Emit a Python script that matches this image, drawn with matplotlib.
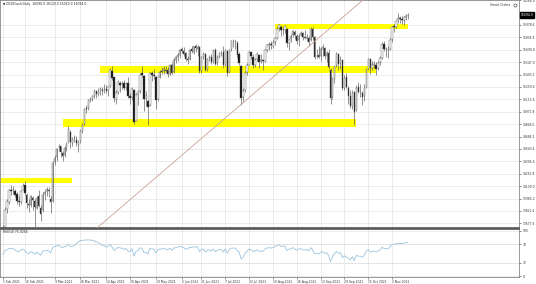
import numpy as np
import pandas as pd
import matplotlib
matplotlib.use('Agg')
import matplotlib.pyplot as plt

# DE30Cash daily bars, 1 Feb 2021 .. 12 Nov 2021
dates = pd.bdate_range('2021-02-01', '2021-11-12')

opens = [13450, 13640, 13840, 13930, 14070, 14070, 14050, 14020, 13940, 13930, 14070, 14120, 14010, 13900, 13890, 13970, 13940, 13860, 13990, 13860,
         13830, 14020, 14050, 14070, 13960, 13940, 14390, 14450, 14560, 14570, 14490, 14470, 14560, 14620, 14740, 14610, 14670, 14650, 14590, 14630, 14750, 14830, 15010,
         15020, 15110, 15120, 15160, 15210, 15180, 15210, 15230, 15220, 15240, 15220, 15270, 15450, 15370, 15120, 15200, 15310, 15290, 15300, 15260, 15300, 15150,
         15140, 15230, 14870, 15180, 15210, 15420, 15390, 15130, 15100, 15050, 15420, 15400, 15380, 15120, 15380, 15440, 15440, 15460, 15460, 15410, 15520,
         15430, 15570, 15610, 15630, 15700, 15680, 15650, 15580, 15580, 15700, 15670, 15730, 15700, 15720, 15440, 15610, 15640, 15470, 15590, 15610, 15560, 15690,
         15540, 15610, 15660, 15670, 15520, 15680, 15430, 15700, 15790, 15780, 15770, 15640, 15500, 15140, 15220, 15430, 15520, 15660, 15610, 15520, 15580, 15630,
         15560, 15570, 15560, 15690, 15750, 15760, 15740, 15780, 15830, 15940, 15960, 15920, 15920, 15930, 15770, 15810, 15860, 15900, 15850, 15800, 15860, 15890,
         15840, 15830, 15830, 15800, 15930, 15840, 15620, 15630, 15620, 15700, 15710, 15620, 15650, 15460, 15140, 15350, 15510, 15640, 15540, 15570, 15250, 15370,
         15250, 15160, 15040, 15200, 14990, 15260, 15200, 15190, 15150, 15260, 15470, 15580, 15480, 15510, 15520, 15480, 15550, 15600, 15760, 15700, 15690,
         15700, 15810, 15960, 15960, 16040, 16060, 16050, 16040, 16070, 16090]
highs = [13660, 13870, 13960, 14080, 14120, 14110, 14080, 14040, 14000, 14070, 14150, 14170, 14030, 13960, 14010, 13990, 13960, 13990, 14060, 13890,
         14040, 14060, 14100, 14100, 13990, 14400, 14470, 14550, 14600, 14580, 14520, 14580, 14620, 14810, 14760, 14680, 14700, 14690, 14640, 14770, 14840, 15020, 15050,
         15120, 15140, 15170, 15240, 15230, 15250, 15260, 15260, 15290, 15280, 15270, 15480, 15500, 15380, 15230, 15340, 15330, 15330, 15340, 15320, 15380, 15190,
         15260, 15240, 15190, 15220, 15420, 15500, 15400, 15210, 15110, 15430, 15440, 15470, 15390, 15380, 15460, 15490, 15500, 15500, 15490, 15530, 15540,
         15600, 15620, 15650, 15700, 15720, 15720, 15670, 15620, 15700, 15730, 15740, 15760, 15750, 15730, 15620, 15660, 15650, 15600, 15630, 15640, 15700, 15710,
         15630, 15670, 15680, 15730, 15700, 15690, 15700, 15800, 15810, 15800, 15790, 15660, 15520, 15250, 15440, 15540, 15680, 15670, 15640, 15600, 15660, 15640,
         15640, 15580, 15700, 15760, 15780, 15790, 15800, 15840, 15950, 15990, 15980, 15950, 15980, 15940, 15820, 15870, 15920, 15920, 15870, 15870, 15910, 15900,
         15920, 15870, 15850, 15950, 15950, 15850, 15700, 15730, 15720, 15760, 15720, 15680, 15700, 15480, 15380, 15520, 15660, 15650, 15620, 15580, 15400, 15420,
         15270, 15230, 15230, 15210, 15280, 15320, 15290, 15210, 15290, 15480, 15600, 15590, 15560, 15560, 15550, 15560, 15620, 15780, 15790, 15720, 15730,
         15830, 15970, 15990, 16040, 16120, 16080, 16080, 16080, 16100, 16120]
lows = [13400, 13620, 13800, 13900, 14010, 14020, 13980, 13900, 13880, 13900, 14060, 14010, 13860, 13810, 13870, 13830, 13640, 13840, 13870, 13700,
        13810, 13950, 14000, 13980, 13800, 13930, 14350, 14400, 14520, 14450, 14400, 14450, 14520, 14610, 14550, 14580, 14620, 14580, 14510, 14610, 14720, 14820, 14960,
        14990, 15090, 15100, 15130, 15130, 15160, 15170, 15170, 15190, 15190, 15150, 15260, 15340, 15080, 15060, 15180, 15200, 15240, 15220, 15230, 15130, 15060,
        15110, 14830, 14860, 15050, 15190, 15380, 14980, 15040, 14816, 15040, 15330, 15350, 15000, 15100, 15360, 15410, 15410, 15420, 15380, 15400, 15410,
        15420, 15540, 15560, 15590, 15650, 15620, 15560, 15530, 15570, 15650, 15640, 15660, 15620, 15420, 15420, 15580, 15440, 15450, 15560, 15530, 15540, 15520,
        15520, 15590, 15620, 15480, 15500, 15390, 15420, 15680, 15720, 15700, 15600, 15520, 15050, 15080, 15200, 15400, 15510, 15580, 15480, 15490, 15560, 15480,
        15540, 15460, 15550, 15660, 15690, 15700, 15710, 15750, 15810, 15910, 15850, 15860, 15890, 15720, 15690, 15780, 15840, 15820, 15760, 15740, 15850, 15800,
        15810, 15790, 15740, 15790, 15800, 15580, 15600, 15590, 15560, 15620, 15580, 15550, 15470, 15060, 15120, 15300, 15490, 15460, 15470, 15230, 15230, 15250,
        15060, 15010, 15000, 14818, 14980, 15190, 15140, 15050, 15100, 15250, 15460, 15410, 15460, 15480, 15400, 15460, 15520, 15580, 15680, 15610, 15600,
        15690, 15780, 15900, 15940, 16000, 16000, 15990, 15980, 16040, 16050]
closes = [13622, 13835, 13933, 14060, 14057, 14059, 14011, 13933, 13921, 14050, 14109, 14034, 13909, 13887, 13993, 13950, 13865, 13976, 13879, 13786,
          14012, 14039, 14080, 14056, 13921, 14380, 14437, 14540, 14569, 14502, 14461, 14557, 14596, 14775, 14621, 14657, 14662, 14610, 14621, 14749, 14818, 15008, 15008,
          15107, 15120, 15150, 15212, 15176, 15202, 15234, 15215, 15234, 15209, 15255, 15460, 15368, 15129, 15195, 15320, 15280, 15296, 15249, 15292, 15154, 15136,
          15236, 14856, 15170, 15197, 15400, 15400, 15120, 15150, 15031, 15416, 15397, 15386, 15113, 15370, 15437, 15438, 15465, 15450, 15406, 15520, 15421,
          15568, 15602, 15632, 15693, 15677, 15640, 15581, 15571, 15693, 15674, 15729, 15710, 15728, 15448, 15603, 15636, 15456, 15589, 15607, 15554, 15691, 15531,
          15604, 15650, 15661, 15511, 15692, 15421, 15688, 15790, 15790, 15788, 15629, 15540, 15133, 15216, 15422, 15515, 15669, 15618, 15519, 15570, 15640, 15544,
          15568, 15555, 15692, 15744, 15761, 15745, 15770, 15826, 15937, 15977, 15925, 15921, 15965, 15765, 15808, 15852, 15905, 15860, 15793, 15852, 15888, 15835,
          15824, 15840, 15781, 15932, 15843, 15610, 15623, 15609, 15701, 15722, 15616, 15651, 15490, 15132, 15348, 15506, 15644, 15531, 15573, 15249, 15365, 15260,
          15156, 15036, 15195, 14973, 15251, 15206, 15199, 15146, 15249, 15462, 15587, 15474, 15515, 15523, 15472, 15543, 15599, 15757, 15705, 15696, 15688,
          15806, 15954, 15959, 16030, 16054, 16046, 16040, 16067, 16083, 16094]
rsi = [48, 56, 58, 61, 61, 61, 58, 55, 54, 58, 60, 56, 51, 50, 54, 52, 48, 53, 49, 46,
       55, 56, 57, 56, 51, 63, 65, 67, 68, 65, 63, 65, 66, 71, 65, 66, 68, 72, 76, 79, 79, 80, 80,
       80, 80, 79, 78, 76, 74, 72, 68, 68, 64, 66, 70, 64, 57, 60, 64, 62, 62, 59, 61, 55, 54,
       61, 44, 55, 56, 62, 62, 52, 53, 49, 61, 60, 60, 51, 58, 60, 60, 61, 60, 58, 62, 57,
       62, 63, 64, 66, 65, 63, 60, 60, 64, 63, 65, 64, 65, 54, 59, 60, 53, 57, 58, 56, 60, 54,
       57, 59, 59, 53, 60, 50, 59, 62, 62, 62, 56, 53, 38, 42, 51, 55, 60, 58, 54, 56, 58, 55,
       55, 55, 60, 62, 63, 62, 63, 65, 68, 69, 66, 66, 67, 57, 59, 61, 63, 60, 57, 60, 61, 58,
       58, 59, 56, 63, 58, 49, 50, 49, 53, 54, 50, 52, 46, 32, 43, 50, 55, 50, 52, 41, 45, 42,
       39, 36, 43, 34, 46, 44, 44, 42, 46, 55, 59, 53, 55, 55, 53, 56, 58, 64, 61, 61, 60,
       65, 70, 70, 72, 73, 72, 72, 73, 74, 75.0266]

# yellow support / resistance boxes
zone_start = ['2021-01-20', '2021-03-15', '2021-04-09', '2021-08-11']
zone_end = ['2021-03-22', '2021-10-07', '2021-10-21', '2021-11-12']
zone_low = [14146, 14795, 15422, 15932]
zone_high = [14204, 14888, 15503, 15990]

# trend line anchors
trend_dates = ['2021-04-07', '2021-10-08']
trend_prices = [13617, 16222]

tick_dates = ['2021-02-01', '2021-02-16', '2021-03-09', '2021-03-26', '2021-04-14', '2021-04-30',
              '2021-05-19', '2021-06-05', '2021-06-21', '2021-07-07', '2021-07-23', '2021-08-10',
              '2021-08-26', '2021-09-13', '2021-09-29', '2021-10-15', '2021-11-02']
tick_labels = ['1 Feb 2021', '16 Feb 2021', '9 Mar 2021', '26 Mar 2021', '14 Apr 2021', '30 Apr 2021',
               '19 May 2021', '5 Jun 2021', '21 Jun 2021', '7 Jul 2021', '23 Jul 2021', '10 Aug 2021',
               '26 Aug 2021', '13 Sep 2021', '29 Sep 2021', '15 Oct 2021', '2 Nov 2021']


def pos(d):
    t = pd.Timestamp(d)
    if t < dates[0]:
        return -5
    return dates.searchsorted(t)


idx = np.arange(len(closes))
o = np.array(opens)
c = np.array(closes)
up = c >= o

fig = plt.figure(figsize=(5.36, 2.84), dpi=100)
ax = fig.add_axes([0.0, 56 / 284, 519 / 536, 228 / 284])
ax2 = fig.add_axes([0.0, 7 / 284, 519 / 536, 48 / 284])

fs = 2.2
grid_c = '#e4e4e4'
xmin, xmax = -1.5, -1.5 + 519 / 1.985
xt = [pos(d) for d in tick_dates]

# main price panel
for s, e, lo, hi in zip(zone_start, zone_end, zone_low, zone_high):
    ax.fill_between([pos(s), pos(e)], lo, hi, color='#ffff00', lw=0, zorder=2)

ax.vlines(idx, lows, highs, color='#555555', lw=0.45, zorder=3)
ax.bar(idx, np.maximum(np.abs(c - o), 3), bottom=np.minimum(o, c), width=0.7,
       color=np.where(up, 'white', '#111111'), edgecolor='#555555', linewidth=0.3, zorder=4)

ax.axline((pos(trend_dates[0]), trend_prices[0]), (pos(trend_dates[1]), trend_prices[1]),
          color='#c8a394', lw=0.6, zorder=5)

ax.set_xlim(xmin, xmax)
ax.set_ylim(13624, 16268)
ax.set_xticks(xt)
ax.tick_params(axis='x', length=0, labelbottom=False)
ax.yaxis.tick_right()
yt = np.arange(13677.6, 16300, 143.8)
yt = yt[np.abs(yt - closes[-1]) > 60]
ax.set_yticks(yt)
ax.set_yticklabels([f'{v:.1f}' for v in yt])
ax.tick_params(axis='y', labelsize=fs, length=1.5, width=0.4, pad=1, colors='#333333')
ax.grid(color=grid_c, lw=0.5)
ax.set_axisbelow(True)
for sp in ['left', 'top', 'right']:
    ax.spines[sp].set_color('#888888')
    ax.spines[sp].set_linewidth(0.6)
ax.spines['bottom'].set_color('#555555')
ax.spines['bottom'].set_linewidth(1.2)

ax.text(0.006, 0.992, f'\u25bc DE30Cash,Daily  {opens[-1]:.1f} {highs[-1]:.1f} {lows[-1]:.1f} {closes[-1]:.1f}',
        transform=ax.transAxes, fontsize=fs, va='top', ha='left', color='#222222')
ax.text(0.983, 0.985, 'Smart Orders', transform=ax.transAxes, fontsize=fs, va='top', ha='right', color='#333333')
ax.plot([0.993], [0.977], transform=ax.transAxes, marker='o', ms=2.2, mfc='none', mec='#555555', mew=0.5)

ax.annotate(f'{closes[-1]:.1f}', xy=(1, closes[-1]), xycoords=('axes fraction', 'data'),
            xytext=(1.2, 0), textcoords='offset points', fontsize=fs, color='white',
            va='center', ha='left', annotation_clip=False,
            bbox=dict(boxstyle='square,pad=0.35', fc='black', ec='black'))

# RSI panel
ax2.plot(idx, rsi, color='#9cc4de', lw=0.6)
ax2.axhline(30, color='#c8c8c8', lw=0.4, ls=':')
ax2.axhline(70, color='#c8c8c8', lw=0.4, ls=':')
ax2.set_xlim(xmin, xmax)
ax2.set_ylim(-2.2, 104.4)
ax2.yaxis.tick_right()
ax2.set_yticks([0, 30, 70, 100])
ax2.set_yticklabels(['0', '30', '70', '100'])
ax2.tick_params(axis='y', labelsize=fs, length=1.5, width=0.4, pad=1, colors='#333333')
ax2.set_xticks(xt)
ax2.set_xticklabels(tick_labels)
ax2.tick_params(axis='x', labelsize=fs, length=1.5, width=0.4, pad=0.5, colors='#333333')
plt.setp(ax2.get_xticklabels(), ha='left')
ax2.grid(color=grid_c, lw=0.5)
ax2.set_axisbelow(True)
for sp in ['left', 'bottom', 'right']:
    ax2.spines[sp].set_color('#888888')
    ax2.spines[sp].set_linewidth(0.6)
ax2.spines['top'].set_color('#555555')
ax2.spines['top'].set_linewidth(1.2)
ax2.text(0.006, 0.97, f'RSI(14) {rsi[-1]:.4f}', transform=ax2.transAxes, fontsize=fs,
         va='top', ha='left', color='#222222')

fig.savefig('out.png', dpi=100)
